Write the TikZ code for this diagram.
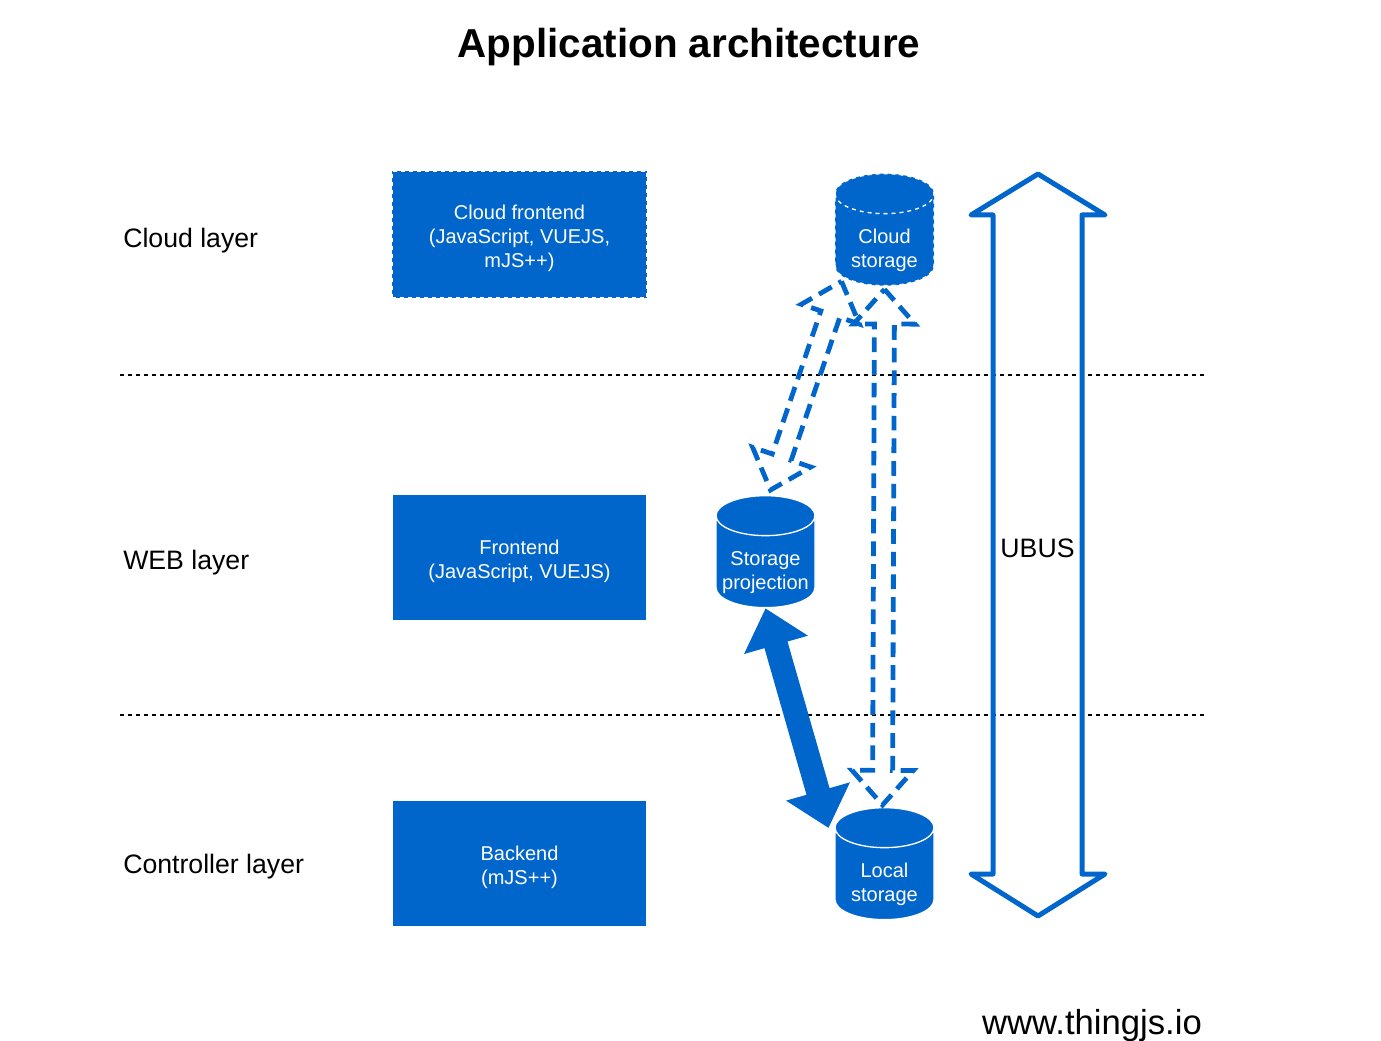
\documentclass[tikz,border=0pt]{standalone}
\usepackage{fontspec}
\setmainfont{Liberation Sans}
\usetikzlibrary{shapes.geometric,arrows.meta,calc}
\definecolor{ArchBlue}{RGB}{0,102,204}

% hollow dashed two-headed arrow between two named points
\newcommand{\syncarrow}[2]{%
  \coordinate (ha) at ($(#1)!26pt!(#2)$);
  \coordinate (hb) at ($(#2)!26pt!(#1)$);
  \draw[sync] (#1) -- ($(ha)!23pt!90:(#2)$) -- ($(ha)!7.5pt!90:(#2)$)
    -- ($(hb)!7.5pt!-90:(#1)$) -- ($(hb)!23pt!-90:(#1)$) -- (#2)
    -- ($(hb)!23pt!90:(#1)$) -- ($(hb)!7.5pt!90:(#1)$)
    -- ($(ha)!7.5pt!-90:(#2)$) -- ($(ha)!23pt!-90:(#2)$) -- cycle;
}
% centred lines, lowered a little without changing the box size
\newcommand{\lines}[2]{\raisebox{#1}[\height][\depth]{\begin{tabular}{@{}c@{}}#2\end{tabular}}}
% text of a storage, kept narrow so it does not stretch the cylinder
\newcommand{\storetext}[1]{\makebox[30pt]{\lines{-8pt}{#1}}}

\begin{document}
\begin{tikzpicture}[x=0.75pt,y=-0.75pt,
  lbl/.style={anchor=west,inner sep=0pt,font=\fontsize{20}{24}\selectfont},
  blk/.style={rectangle,fill=ArchBlue,draw=white,line width=1pt,minimum width=191.25pt,minimum height=95.25pt,text=white,font=\fontsize{15}{18}\selectfont},
  store/.style={cylinder,shape border rotate=90,aspect=1,anchor=north,fill=ArchBlue,draw=white,line width=1pt,minimum width=74.25pt,minimum height=84pt,text=white,font=\fontsize{15}{18}\selectfont,inner sep=0pt},
  sync/.style={draw=ArchBlue,line width=3.6pt,dash pattern=on 11pt off 6pt},
  sep/.style={dashed,line width=0.8pt}]
\useasboundingbox (0,0) rectangle (1381,1041);

\node[font=\fontsize{30.3}{36}\selectfont\bfseries] (title) at (689,47) {Application architecture};

% layers
\node[lbl] (cloudlbl) at (123,241) {Cloud layer};
\node[lbl] (weblbl) at (123,563) {WEB layer};
\node[lbl] (ctrllbl) at (123,867) {Controller layer};
\draw[sep] (120,375) -- (1207,375);
\draw[sep] (120,715) -- (1207,715);

% blocks
\node[blk,dashed] (cloudfe) at (519.5,234.5) {\lines{-3pt}{Cloud frontend\\(JavaScript, VUEJS,\\mJS++)}};
\node[blk] (fe) at (519.5,557.5) {\lines{-3pt}{Frontend\\(JavaScript, VUEJS)}};
\node[blk] (be) at (519.5,863.5) {\lines{-3pt}{Backend\\(mJS++)}};

% storages
\node[store,dashed] (cloud) at (884.5,173) {\storetext{Cloud\\storage}};
\node[store] (proj) at (765.5,495) {\storetext{Storage\\projection}};
\node[store] (local) at (884.5,807) {\storetext{Local\\storage}};

% sync arrows
\coordinate (c1) at ($(cloud.south)+(-43,-5)$);
\coordinate (p1) at ($(proj.north)+(5,-5)$);
\syncarrow{c1}{p1}
\coordinate (c2) at ($(cloud.south)+(0,3)$);
\coordinate (l2) at ($(local.north)+(-2,-2)$);
\syncarrow{c2}{l2}

\coordinate (l1) at ($(local.north)+(-56,21)$);
\draw[ArchBlue,line width=18pt,{Triangle[width=48pt,length=28.5pt]}-{Triangle[width=48pt,length=28.5pt]}]
  (proj.south) -- (l1);

% UBUS
\draw[ArchBlue,line width=3.75pt,line join=round]
  (1038,174) -- (1105,215) -- (1082,215) -- (1082,874) -- (1105,874)
  -- (1038,916) -- (971,874) -- (993,874) -- (993,215) -- (971,215) -- cycle;
\node[font=\fontsize{20}{24}\selectfont] (ubus) at (1037.5,548) {UBUS};

\node[font=\fontsize{26}{30}\selectfont,anchor=base] (site) at (1092,1034) {www.thingjs.io};
\end{tikzpicture}
\end{document}
